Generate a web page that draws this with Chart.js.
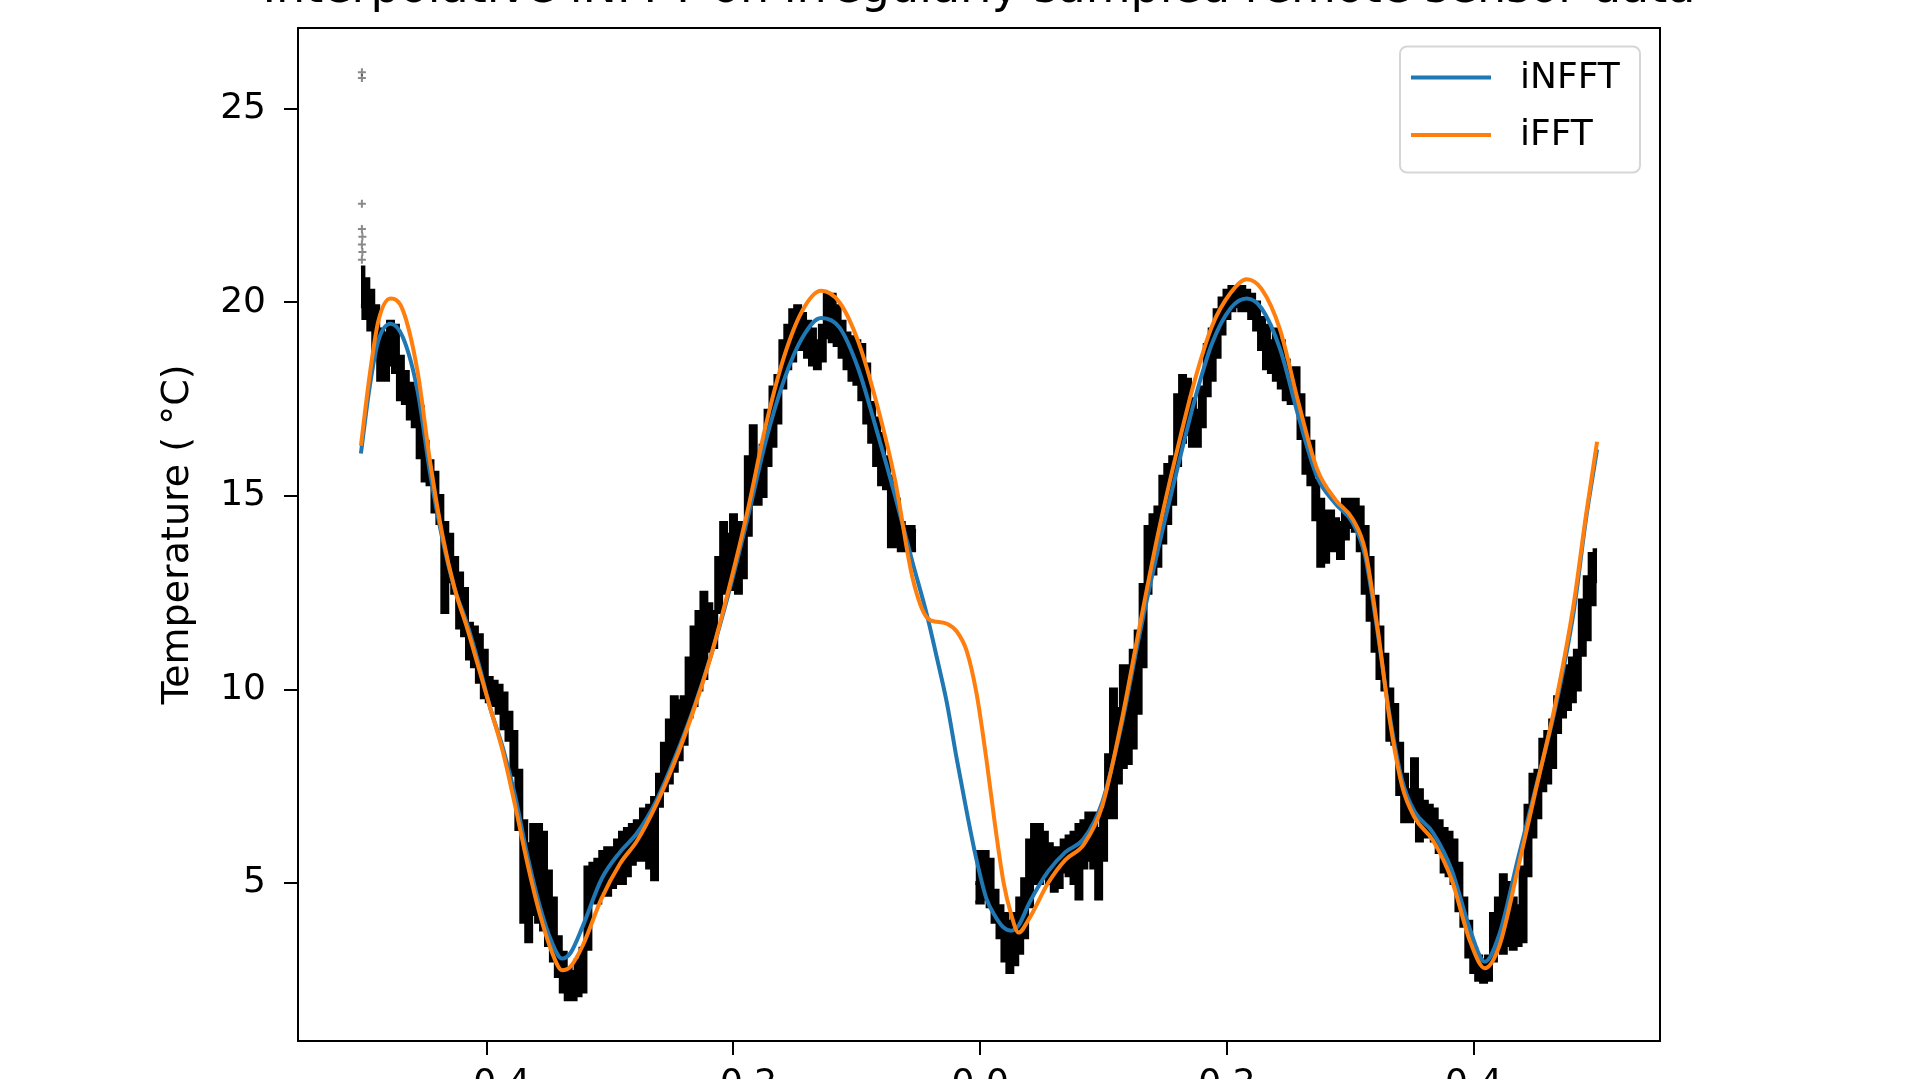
<!DOCTYPE html>
<html>
<head>
<meta charset="utf-8">
<script src="https://cdn.jsdelivr.net/npm/chart.js@4/dist/chart.umd.min.js"></script>
<style>
html, body { margin:0; padding:0; background:#fff; overflow:hidden; width:1920px; height:1079px; }
#wrap { position:absolute; left:0; top:-38px; width:1920px; height:1157px; }
canvas { display:block; }
</style>
</head>
<body>
<div id="wrap"><canvas id="c" width="1920" height="1157"></canvas></div>
<script>
// ---------------- data ----------------
const TITLE = 'Interpolative iNFFT on irregularly sampled remote sensor data';
const Y_LABEL = 'Temperature ( °C)';
const SERIES_NAMES = ['iNFFT', 'iFFT'];

const xTicks = [-0.4, -0.2, 0.0, 0.2, 0.4];
const xTickLabels = ['\u22120.4', '\u22120.2', '0.0', '0.2', '0.4'];
const yTicks = [5, 10, 15, 20, 25];
const yTickLabels = ['5', '10', '15', '20', '25'];

// reconstructed curves
const curveX = [-0.502,-0.495,-0.488,-0.478,-0.468,-0.456,-0.446,-0.436,-0.426,-0.416,-0.406,-0.397,-0.387,-0.377,-0.367,-0.357,-0.347,-0.339,-0.332,-0.322,-0.307,-0.292,-0.278,-0.263,-0.248,-0.233,-0.218,-0.203,-0.188,-0.174,-0.159,-0.144,-0.129,-0.114,-0.099,-0.084,-0.069,-0.055,-0.043,-0.035,-0.027,-0.019,-0.011,-0.003,0.005,0.012,0.019,0.025,0.031,0.040,0.055,0.069,0.084,0.099,0.114,0.129,0.144,0.159,0.174,0.188,0.203,0.216,0.228,0.243,0.258,0.273,0.288,0.302,0.312,0.322,0.332,0.342,0.352,0.367,0.382,0.397,0.409,0.421,0.436,0.451,0.466,0.481,0.491,0.500];
const infftY = [16.1,17.8,19.0,19.45,19.1,17.7,15.6,13.9,12.6,11.7,10.6,9.5,8.5,7.25,5.7,4.4,3.45,3.05,3.2,3.9,5.1,5.8,6.3,7.1,8.2,9.45,10.9,12.6,14.5,16.4,18.0,19.1,19.6,19.35,18.3,16.7,15.0,13.3,11.9,10.8,9.65,8.2,6.85,5.6,4.6,4.15,3.85,3.77,3.9,4.5,5.3,5.8,6.15,7.1,9.0,11.4,13.6,15.6,17.5,18.95,19.85,20.1,19.85,18.8,17.05,15.5,14.8,14.3,13.45,11.5,9.3,7.65,6.85,6.3,5.35,3.8,2.97,3.7,5.65,7.55,9.5,12.0,14.4,16.2];
const ifftY = [16.3,18.1,19.5,20.1,19.8,18.2,15.9,14.0,12.6,11.6,10.5,9.5,8.4,7.0,5.5,4.2,3.2,2.75,2.85,3.4,4.6,5.5,6.1,7.0,8.1,9.4,10.9,12.7,14.7,16.8,18.6,19.8,20.3,20.0,19.0,17.4,15.4,12.9,11.85,11.75,11.7,11.5,11.0,9.9,8.2,6.5,5.0,4.2,3.72,4.1,5.0,5.6,6.0,7.0,9.1,11.6,14.0,16.1,18.0,19.4,20.25,20.6,20.35,19.3,17.4,15.7,14.9,14.4,13.6,11.6,9.2,7.5,6.7,6.1,5.1,3.5,2.8,3.4,5.4,7.5,9.6,12.2,14.5,16.4];

// irregular sensor samples: lower / upper envelope of the dense point cloud (null = no samples)
const bandX = [-0.502,-0.498,-0.494,-0.490,-0.486,-0.482,-0.478,-0.474,-0.470,-0.466,-0.462,-0.458,-0.454,-0.450,-0.446,-0.442,-0.438,-0.434,-0.430,-0.426,-0.422,-0.418,-0.414,-0.410,-0.406,-0.402,-0.398,-0.394,-0.390,-0.386,-0.382,-0.378,-0.374,-0.370,-0.366,-0.362,-0.358,-0.354,-0.350,-0.346,-0.342,-0.338,-0.334,-0.330,-0.326,-0.322,-0.318,-0.314,-0.310,-0.306,-0.302,-0.298,-0.294,-0.290,-0.286,-0.282,-0.278,
 -0.272,-0.268,-0.264,-0.260,-0.256,-0.252,-0.248,-0.244,-0.240,-0.236,-0.232,-0.228,-0.224,-0.220,-0.216,-0.212,-0.208,-0.204,-0.200,-0.196,-0.192,-0.188,-0.184,-0.180,-0.176,-0.172,-0.168,-0.164,-0.160,-0.156,-0.152,-0.148,-0.144,-0.140,-0.136,-0.132,-0.128,-0.124,-0.120,-0.116,-0.112,-0.108,-0.104,-0.100,-0.096,-0.092,-0.088,-0.084,-0.080,-0.076,-0.072,-0.068,-0.064,-0.060,-0.056,-0.052,
 -0.030,
 -0.004,0.000,0.004,0.008,0.012,0.016,0.020,0.024,0.028,0.032,0.036,0.040,0.044,0.048,0.052,0.056,0.060,0.064,0.068,0.072,0.076,0.080,0.084,0.088,
 0.092,0.096,0.100,0.104,0.108,0.112,0.116,0.120,0.124,0.128,0.132,0.136,0.140,0.144,0.148,0.152,0.156,0.160,0.164,0.168,0.172,0.176,0.180,0.184,0.188,0.192,0.196,0.200,0.204,0.208,0.212,0.216,0.220,0.224,0.228,0.232,0.236,0.240,0.244,0.248,0.252,0.256,0.260,0.264,0.268,0.272,0.276,0.280,0.284,0.288,0.292,0.296,0.300,0.304,0.308,
 0.312,0.316,0.320,0.324,0.328,0.332,0.336,0.340,0.344,0.348,0.352,0.356,0.360,0.364,0.368,0.372,0.376,0.380,0.384,0.388,0.392,0.396,0.400,0.404,0.408,0.412,0.416,0.420,0.424,0.428,0.432,0.436,0.440,0.444,0.448,0.452,0.456,0.460,0.464,0.468,0.472,0.476,0.480,0.484,0.488,0.492,0.496,0.500];
const bandLo = [19.9,19.6,19.3,18.8,18.0,18.0,18.4,18.2,17.5,17.4,17.0,16.8,16.0,15.4,15.3,14.6,14.3,12.0,12.8,12.5,11.6,11.4,10.8,10.6,10.2,9.8,9.7,9.6,9.4,9.0,8.7,7.8,6.4,4.0,3.5,4.2,4.0,3.8,3.4,3.0,2.6,2.2,2.0,2.0,2.1,2.2,3.3,4.6,4.5,4.8,4.7,4.9,5.0,5.0,5.2,5.5,5.6,
 5.6,5.4,5.1,7.0,7.4,7.6,7.9,8.2,8.6,9.3,9.6,10.0,10.3,11.0,11.1,12.0,12.5,12.6,12.6,12.5,12.9,14.0,14.8,14.8,15.0,15.8,16.3,16.9,17.8,18.3,18.5,18.8,18.8,18.6,18.4,18.3,18.5,19.1,19.0,18.9,18.6,18.3,18.0,17.9,17.5,16.9,16.4,15.8,15.3,15.2,13.7,13.7,13.6,13.6,13.6,13.6,
 null,
 4.5,4.5,4.6,4.4,4.0,3.6,3.0,2.7,2.9,3.2,3.6,4.4,5.0,5.0,5.2,5.0,4.8,4.9,5.3,5.2,5.0,4.6,5.4,5.6,
 5.4,4.6,5.6,6.7,6.7,7.6,8.0,8.1,8.5,9.4,10.6,12.5,13.0,13.2,13.8,14.3,14.8,15.8,16.4,16.6,16.3,16.3,16.8,17.6,18.0,18.6,19.2,19.6,19.8,19.9,19.8,19.8,19.6,19.3,18.8,18.3,18.2,18.0,17.8,17.5,17.4,17.4,16.5,15.6,15.3,14.4,13.2,13.3,13.6,13.6,13.4,13.9,14.2,14.1,13.6,
 12.5,11.8,11.0,10.3,10.0,8.7,8.6,7.3,6.6,6.6,6.7,6.1,6.2,6.3,6.1,5.8,5.3,5.2,5.0,4.3,3.9,3.1,2.7,2.5,2.45,2.5,3.0,3.3,3.2,3.4,3.3,3.4,3.5,5.2,6.2,6.7,7.4,7.6,8.0,8.9,9.3,9.5,9.7,10.0,10.9,11.3,12.2,12.8];
const bandHi = [20.9,20.6,20.3,19.9,19.3,19.2,19.5,19.4,18.6,18.2,17.9,17.8,17.3,16.4,15.9,15.6,15.0,14.3,14.0,13.4,13.0,12.6,11.7,11.6,11.4,11.0,10.3,10.2,10.1,9.9,9.4,8.9,7.9,6.6,6.0,6.5,6.5,6.3,5.3,4.6,3.6,3.2,2.8,2.7,3.0,3.3,5.4,5.5,5.6,5.8,5.9,5.9,6.1,6.3,6.4,6.5,6.6,
 6.9,7.0,7.2,7.8,8.6,9.2,9.8,9.7,9.8,10.8,11.6,12.0,12.5,12.2,12.0,13.4,14.3,14.0,14.5,14.3,14.0,16.0,16.8,16.0,16.3,17.2,17.8,18.1,19.0,19.4,19.8,19.9,19.7,19.5,19.3,19.0,19.4,20.2,20.2,19.9,19.5,19.2,19.1,19.0,18.9,18.4,17.4,17.0,16.6,16.0,15.5,14.9,14.3,14.2,14.2,14.1,
 null,
 5.0,5.8,5.8,5.6,4.8,4.4,4.2,4.0,4.2,4.6,5.1,6.1,6.5,6.5,6.3,6.0,5.9,5.9,6.1,6.2,6.3,6.5,6.6,6.8,
 6.8,6.4,6.9,8.3,10.0,9.5,10.6,10.6,11.0,11.5,12.7,14.2,14.5,14.7,15.5,15.8,16.0,17.6,18.1,18.0,17.5,17.2,17.8,18.9,19.3,19.8,20.1,20.3,20.4,20.4,20.4,20.3,20.2,20.0,19.6,19.4,19.0,19.3,19.0,18.5,18.2,18.3,17.6,17.0,16.4,15.4,14.9,14.6,14.6,14.4,14.3,14.9,14.9,14.9,14.7,
 14.2,13.4,12.4,11.6,10.9,10.0,9.6,8.6,7.8,7.4,8.2,7.4,7.1,7.0,6.9,6.6,6.4,6.3,6.1,5.5,4.6,4.0,3.3,3.1,3.0,3.1,4.2,4.6,5.2,5.0,4.6,4.4,5.4,7.0,7.8,7.9,8.7,8.9,9.2,9.8,10.2,10.6,10.8,11.0,12.3,12.9,13.5,13.6];

// isolated outlying samples at the left edge
const outlierX = [-0.5012,-0.5012,-0.5012,-0.5012,-0.5008,-0.5012,-0.5008,-0.5012];
const outlierY = [25.95,25.8,22.55,21.9,21.7,21.5,21.3,21.1];

// ---------------- chart ----------------
const FONT = "'DejaVu Sans', 'Liberation Sans', sans-serif";
const BLUE = '#1f77b4', ORANGE = '#ff7f0e';

const pts = (xs, ys) => xs.map((x, i) => ({x: x, y: ys[i]}));

const frame = {
  id: 'frame',
  afterDatasetsDraw(chart) {
    const {ctx, chartArea: a} = chart;
    ctx.save();
    ctx.strokeStyle = '#000';
    ctx.lineWidth = 2;
    ctx.strokeRect(a.left, a.top, a.right - a.left, a.bottom - a.top);
    ctx.restore();
  }
};

const mplLegend = {
  id: 'mplLegend',
  afterDraw(chart) {
    const {ctx, chartArea: a} = chart;
    const items = chart.data.datasets.filter(d => d.inLegend);
    const w = 240, h = 126, r = 7;
    const x0 = a.right - 20 - w, y0 = a.top + 18.5;
    ctx.save();
    ctx.beginPath();
    ctx.moveTo(x0 + r, y0);
    ctx.lineTo(x0 + w - r, y0); ctx.arcTo(x0 + w, y0, x0 + w, y0 + r, r);
    ctx.lineTo(x0 + w, y0 + h - r); ctx.arcTo(x0 + w, y0 + h, x0 + w - r, y0 + h, r);
    ctx.lineTo(x0 + r, y0 + h); ctx.arcTo(x0, y0 + h, x0, y0 + h - r, r);
    ctx.lineTo(x0, y0 + r); ctx.arcTo(x0, y0, x0 + r, y0, r);
    ctx.closePath();
    ctx.fillStyle = 'rgba(255,255,255,0.8)';
    ctx.fill();
    ctx.strokeStyle = '#d6d6d6';
    ctx.lineWidth = 2;
    ctx.stroke();
    items.forEach((d, i) => {
      const cy = y0 + 31 + i * 57.5;
      ctx.beginPath();
      ctx.moveTo(x0 + 11, cy); ctx.lineTo(x0 + 91, cy);
      ctx.strokeStyle = d.borderColor; ctx.lineWidth = 4; ctx.lineCap = 'butt';
      ctx.stroke();
      ctx.fillStyle = '#000';
      ctx.font = '36px ' + FONT;
      ctx.textBaseline = 'middle';
      ctx.textAlign = 'left';
      ctx.fillText(d.label, x0 + 120, cy + 1);
    });
    ctx.restore();
  }
};

new Chart(document.getElementById('c'), {
  type: 'line',
  data: {
    datasets: [
      { label: 'samples_lo', data: pts(bandX, bandLo), borderColor: '#000', backgroundColor: '#000',
        borderWidth: 4, pointRadius: 0, stepped: 'middle', fill: false, spanGaps: false, order: 5 },
      { label: 'samples_hi', data: pts(bandX, bandHi), borderColor: '#000', backgroundColor: '#000',
        borderWidth: 4, pointRadius: 0, stepped: 'middle', fill: '-1', spanGaps: false, order: 4 },
      { type: 'scatter', label: 'outliers', data: pts(outlierX, outlierY), pointStyle: 'cross',
        pointRadius: 4, borderColor: 'rgba(60,60,60,0.6)', borderWidth: 2, showLine: false, order: 6 },
      { label: SERIES_NAMES[0], inLegend: true, data: pts(curveX, infftY), borderColor: BLUE,
        borderWidth: 4, pointRadius: 0, cubicInterpolationMode: 'monotone', fill: false, order: 1 },
      { label: SERIES_NAMES[1], inLegend: true, data: pts(curveX, ifftY), borderColor: ORANGE,
        borderWidth: 4, pointRadius: 0, cubicInterpolationMode: 'monotone', fill: false, order: 0 }
    ]
  },
  options: {
    responsive: false,
    maintainAspectRatio: false,
    devicePixelRatio: 1,
    animation: false,
    events: [],
    layout: { padding: { left: 38, right: 0, top: 0, bottom: 0 } },
    plugins: {
      legend: { display: false },
      tooltip: { enabled: false },
      title: { display: true, text: TITLE, color: '#000', fullSize: true,
               font: { family: FONT, size: 46, weight: 'normal' },
               padding: { top: 0, bottom: 10.8 } }
    },
    scales: {
      x: {
        type: 'linear', min: -0.553, max: 0.551,
        afterBuildTicks: s => { s.ticks = xTicks.map(v => ({ value: v })); },
        afterFit: s => { s.height = 78; },
        ticks: { color: '#000', font: { family: FONT, size: 36 }, padding: 8, autoSkip: false,
                 maxRotation: 0, callback: (v, i) => xTickLabels[i] },
        grid: { display: true, drawOnChartArea: false, drawTicks: true, tickLength: 14,
                color: '#000', lineWidth: 2 },
        border: { display: true, color: '#000', width: 2 }
      },
      y: {
        type: 'linear', min: 0.92, max: 27.09,
        afterBuildTicks: s => { s.ticks = yTicks.map(v => ({ value: v })); },
        afterFit: s => { s.width = 260; },
        ticks: { color: '#000', font: { family: FONT, size: 36 }, padding: 18, autoSkip: false,
                 callback: (v, i) => yTickLabels[i] },
        grid: { display: true, drawOnChartArea: false, drawTicks: true, tickLength: 14,
                color: '#000', lineWidth: 2 },
        border: { display: true, color: '#000', width: 2 },
        title: { display: true, text: Y_LABEL, color: '#000', font: { family: FONT, size: 38 },
                 padding: { top: 117, bottom: 0 } }
      },
      yRightSpace: {
        type: 'linear', position: 'right', min: 0, max: 1, display: true,
        afterFit: s => { s.width = 260; },
        ticks: { display: false },
        grid: { display: false, drawTicks: false },
        border: { display: false }
      }
    }
  },
  plugins: [frame, mplLegend]
});
</script>
</body>
</html>
